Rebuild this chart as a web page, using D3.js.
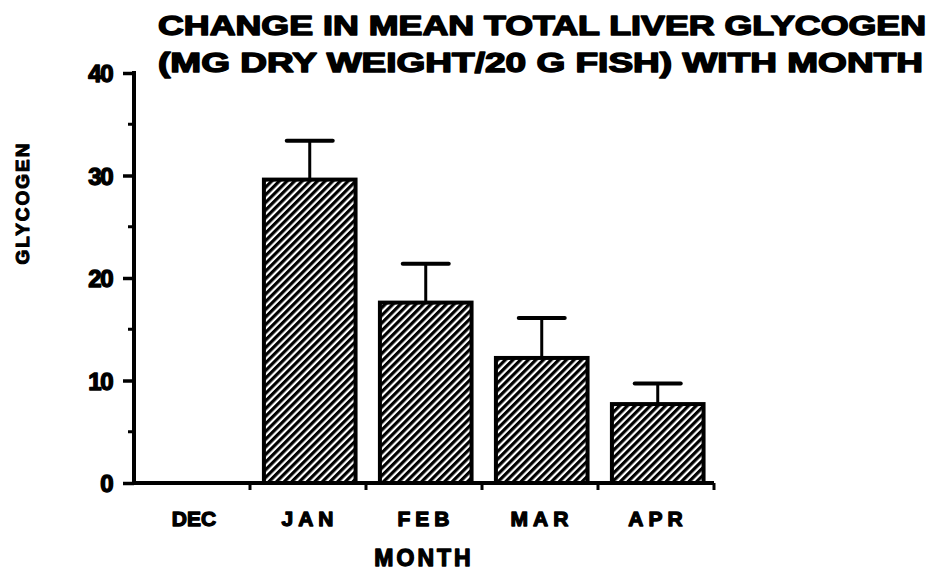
<!DOCTYPE html>
<html>
<head>
<meta charset="utf-8">
<script src="https://cdn.jsdelivr.net/npm/d3@7"></script>
<style>
  html, body { margin: 0; padding: 0; background: #fff; }
  svg { display: block; }
  text { font-family: "Liberation Sans", Arial, sans-serif; font-weight: bold; fill: #000; }
</style>
</head>
<body>
<div id="chart"></div>
<script>
// Data
const months = ['DEC', 'JAN', 'FEB', 'MAR', 'APR'];
const glycogen = [0, 29.6, 17.6, 12.2, 7.7];
const stdError = [0, 3.8, 3.8, 3.9, 2.0];
const yTicks = [0, 10, 20, 30, 40];
const yMinorTicks = [5, 15, 25, 35];
const titleLines = ['CHANGE IN MEAN TOTAL LIVER GLYCOGEN', '(MG DRY WEIGHT/20 G FISH) WITH MONTH'];

const W = 933, H = 572;
const plot = { left: 134, right: 714, top: 73, bottom: 483 };

const svg = d3.select('#chart').append('svg')
  .attr('width', W)
  .attr('height', H);

// hatch fill: dense diagonal black lines
const defs = svg.append('defs');
defs.append('pattern')
  .attr('id', 'hatch')
  .attr('patternUnits', 'userSpaceOnUse')
  .attr('width', 5.4)
  .attr('height', 5.4)
  .attr('patternTransform', 'rotate(45)')
  .append('rect')
  .attr('x', 0).attr('y', 0)
  .attr('width', 3.2).attr('height', 5.4)
  .attr('fill', '#000');

const x = d3.scaleBand()
  .domain(months)
  .range([plot.left, plot.right])
  .padding(0);

const y = d3.scaleLinear()
  .domain([0, 40])
  .range([plot.bottom, plot.top]);

// title
svg.append('g')
  .selectAll('text')
  .data(titleLines)
  .join('text')
  .attr('x', 158)
  .attr('y', (d, i) => 35 + i * 37)
  .attr('textLength', (d, i) => i === 0 ? 768 : 765)
  .attr('lengthAdjust', 'spacingAndGlyphs')
  .attr('font-size', 28)
  .attr('stroke', '#000')
  .attr('stroke-width', 1.5)
  .attr('stroke-linejoin', 'round')
  .text(d => d);

// bars
const barW = x.bandwidth() * 0.79;
const barOff = x.bandwidth() * 0.12;
svg.append('g')
  .selectAll('rect')
  .data(months.map((m, i) => ({ m, v: glycogen[i] })).filter(d => d.v > 0))
  .join('rect')
  .attr('x', d => x(d.m) + barOff)
  .attr('y', d => y(d.v))
  .attr('width', barW)
  .attr('height', d => y(0) - y(d.v))
  .attr('fill', 'url(#hatch)')
  .attr('stroke', '#000')
  .attr('stroke-width', 4);

// error bars (upper only)
const errG = svg.append('g')
  .attr('stroke', '#000')
  .attr('fill', 'none');
const errData = months.map((m, i) => ({ m, v: glycogen[i], e: stdError[i] })).filter(d => d.e > 0);
errData.forEach(d => {
  const cx = x(d.m) + barOff + barW / 2;
  errG.append('line')
    .attr('x1', cx).attr('x2', cx)
    .attr('y1', y(d.v)).attr('y2', y(d.v + d.e))
    .attr('stroke-width', 3);
  errG.append('line')
    .attr('x1', cx - 23).attr('x2', cx + 23)
    .attr('y1', y(d.v + d.e)).attr('y2', y(d.v + d.e))
    .attr('stroke-width', 4)
    .attr('stroke-linecap', 'round');
});

// y axis
const yAxis = svg.append('g')
  .attr('transform', `translate(${plot.left},0)`)
  .call(d3.axisLeft(y).tickValues(yTicks).tickSize(11).tickPadding(11));
yAxis.select('.domain').remove();
yAxis.selectAll('.tick line').attr('stroke', '#000').attr('stroke-width', 3.5);
yAxis.selectAll('.tick text')
  .attr('font-size', 24)
  .attr('font-family', '"Liberation Sans", Arial, sans-serif')
  .attr('font-weight', 'bold')
  .attr('stroke', '#000')
  .attr('stroke-width', 1.4)
  .attr('stroke-linejoin', 'round')
  .attr('letter-spacing', -1.5)
  .attr('dy', '0.36em');

svg.append('g')
  .selectAll('line')
  .data(yMinorTicks)
  .join('line')
  .attr('x1', plot.left - 6).attr('x2', plot.left)
  .attr('y1', d => y(d)).attr('y2', d => y(d))
  .attr('stroke', '#000')
  .attr('stroke-width', 3);

svg.append('line')
  .attr('x1', plot.left).attr('x2', plot.left)
  .attr('y1', y(40) - 2).attr('y2', y(0) + 2)
  .attr('stroke', '#000')
  .attr('stroke-width', 4);

// x axis
svg.append('line')
  .attr('x1', plot.left).attr('x2', plot.right)
  .attr('y1', y(0)).attr('y2', y(0))
  .attr('stroke', '#000')
  .attr('stroke-width', 4);

svg.append('g')
  .selectAll('line')
  .data(months)
  .join('line')
  .attr('x1', d => x(d) + x.bandwidth()).attr('x2', d => x(d) + x.bandwidth())
  .attr('y1', y(0)).attr('y2', y(0) + 7)
  .attr('stroke', '#000')
  .attr('stroke-width', 3);

svg.append('g')
  .selectAll('text')
  .data(months)
  .join('text')
  .attr('x', d => x(d) + x.bandwidth() / 2 + 2)
  .attr('y', 526)
  .attr('text-anchor', 'middle')
  .attr('font-size', 21)
  .attr('letter-spacing', d => d === 'DEC' ? 0 : 5)
  .attr('stroke', '#000')
  .attr('stroke-width', 1.3)
  .attr('stroke-linejoin', 'round')
  .text(d => d);

// axis titles
svg.append('text')
  .attr('x', 424)
  .attr('y', 566)
  .attr('text-anchor', 'middle')
  .attr('font-size', 23)
  .attr('letter-spacing', 3)
  .attr('stroke', '#000')
  .attr('stroke-width', 1.3)
  .attr('stroke-linejoin', 'round')
  .text('MONTH');

svg.append('text')
  .attr('transform', 'translate(29,203) rotate(-90)')
  .attr('text-anchor', 'middle')
  .attr('font-size', 19)
  .attr('letter-spacing', 2)
  .attr('stroke', '#000')
  .attr('stroke-width', 1.1)
  .attr('stroke-linejoin', 'round')
  .text('GLYCOGEN');
</script>
</body>
</html>
